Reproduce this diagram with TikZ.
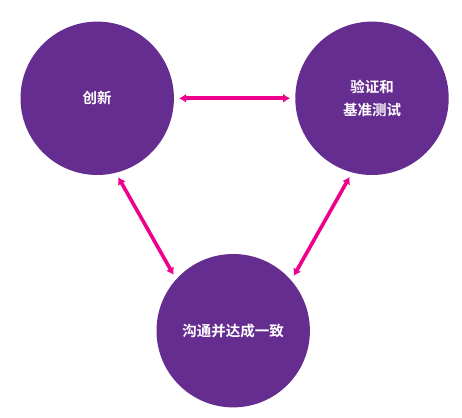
\documentclass[tikz,border=0pt]{standalone}
\usepackage{fontspec}
\newfontfamily\cjk{Noto Sans CJK SC}[BoldFont={Noto Sans CJK SC Bold}]
\usetikzlibrary{arrows.meta}
\definecolor{circpurple}{HTML}{662D91}
\definecolor{arrowpink}{HTML}{EC008C}
\tikzset{
  bubble/.style={circle, fill=circpurple, minimum size=153.4pt, inner sep=0pt,
    text=white, align=center, font=\cjk\bfseries\fontsize{14.5}{23}\selectfont},
  link/.style={draw=arrowpink, line width=3.6pt, {Latex[length=7pt,width=9pt]}-{Latex[length=7pt,width=9pt]},
    shorten <=5pt, shorten >=5pt}
}
\begin{document}
\begin{tikzpicture}[x=1pt,y=1pt]
\useasboundingbox (0,0) rectangle (462,417);
\node[bubble] (L) at (97.2,318.7) {创新};
\node[bubble] (R) at (372,318.7) {验证和\\基准测试};
\node[bubble] (B) at (233.2,86.3) {沟通并达成一致};
\draw[link] (L.0) -- (R.180);
\draw[link] (L.-76.7) -- (B.138.5);
\draw[link] (R.-105) -- (B.41.4);
\end{tikzpicture}
\end{document}
